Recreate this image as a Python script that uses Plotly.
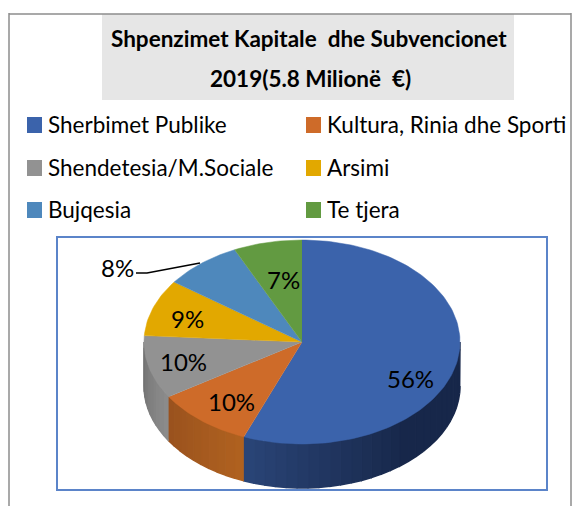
import math
import plotly.graph_objects as go

title_lines = ["Shpenzimet Kapitale  dhe Subvencionet", "2019(5.8 Milionë  €)"]
categories = ["Sherbimet Publike", "Kultura, Rinia dhe Sporti", "Shendetesia/M.Sociale", "Arsimi", "Bujqesia", "Te tjera"]
shares = [56, 10, 10, 9, 8, 7]
colors = ["#3B63AB", "#CE6B29", "#929292", "#E2A800", "#4E88BC", "#629A41"]
side_left = ["#2A4577", "#B0621F", "#8C8C8C"]
side_right = ["#17274A", "#99511E", "#727272"]

W, H = 573, 506
CX, CY, RX, RY, DEPTH = 302, 342, 158, 102, 44
FONT = "Lato"

def pt(turn, dy=0):
    a = 2 * math.pi * turn
    return CX + RX * math.sin(a), CY - RY * math.cos(a) + dy

def lerp(c1, c2, f):
    a = [int(c1[i:i+2], 16) for i in (1, 3, 5)]
    b = [int(c2[i:i+2], 16) for i in (1, 3, 5)]
    return "#%02x%02x%02x" % tuple(round(p + (q - p) * f) for p, q in zip(a, b))

fig = go.Figure()

def poly(xs, ys, color, lw=1.5):
    fig.add_trace(go.Scatter(x=xs, y=ys, mode="lines", fill="toself", fillcolor=color,
                             line=dict(color=color, width=lw), hoverinfo="skip", showlegend=False))

total = sum(shares)
edges = [0]
for v in shares:
    edges.append(edges[-1] + v / total)

# visible side wall (front half of the pie), colour fades along the rim
for i in range(len(shares)):
    lo, hi = max(edges[i], 0.25), min(edges[i + 1], 0.75)
    if lo >= hi or i >= len(side_left):
        continue
    n = 28 if i == 0 else 10
    for k in range(n):
        t0 = lo + (hi - lo) * k / n
        t1 = lo + (hi - lo) * (k + 1) / n
        f = (k + 0.5) / n
        if i == 0:
            # clockwise from the right: dark first, lighter toward the orange slice
            f = 1 - max(0, (f - 0.45) / 0.55)
        c = lerp(side_left[i], side_right[i], f)
        ts = [t0 + (t1 - t0) * j / 4 for j in range(5)]
        pts = [pt(t) for t in ts] + [pt(t, DEPTH) for t in reversed(ts)]
        poly([p[0] for p in pts], [p[1] for p in pts], c)

# top faces
for i, c in enumerate(colors):
    n = max(4, int((edges[i + 1] - edges[i]) * 240))
    pts = [(CX, CY)] + [pt(edges[i] + (edges[i + 1] - edges[i]) * j / n) for j in range(n + 1)]
    poly([p[0] for p in pts], [p[1] for p in pts], c, lw=0.5)

# leader line for the 8% label
fig.add_trace(go.Scatter(x=[136, 147, 200], y=[273, 273, 263], mode="lines",
                         line=dict(color="black", width=1.6), hoverinfo="skip", showlegend=False))

shapes = [
    dict(type="rect", x0=102, x1=514, y0=14, y1=100, fillcolor="#E6E6E6", line=dict(width=0), layer="below"),
    dict(type="line", x0=9, x1=9, y0=13, y1=506, line=dict(color="#8C8C8C", width=1.5)),
    dict(type="line", x0=9, x1=571, y0=14, y1=14, line=dict(color="#8C8C8C", width=1.5)),
    dict(type="line", x0=571, x1=571, y0=13, y1=506, line=dict(color="#8C8C8C", width=1.5)),
    dict(type="rect", x0=57, x1=547, y0=237, y1=490, line=dict(color="#5B84C9", width=2)),
]

annotations = []
def text(x, y, s, size, anchor="left", bold=False):
    annotations.append(dict(x=x, y=y, text=f"<b>{s}</b>" if bold else s, showarrow=False,
                            xanchor=anchor, yanchor="middle", xref="x", yref="y",
                            font=dict(family=FONT, size=size, color="black")))

text(309, 38, title_lines[0], 22.5, "center", True)
text(310, 78, title_lines[1], 22.5, "center", True)

legend_x = [27, 306]
legend_y = [125, 168, 210]
for i, (name, c) in enumerate(zip(categories, colors)):
    x = legend_x[i % 2]
    y = legend_y[i // 2]
    shapes.append(dict(type="rect", x0=x, x1=x + 15, y0=y - 8, y1=y + 8, fillcolor=c, line=dict(width=0)))
    text(x + 19, y - 1, name, 22.5)

label_xy = [(410, 378), (231, 401), (183, 361), (187, 318), (117, 267), (283, 279)]
for v, (x, y) in zip(shares, label_xy):
    text(x, y, f"{v}%", 24, "center")

fig.update_layout(
    width=W, height=H, margin=dict(l=0, r=0, t=0, b=0),
    paper_bgcolor="white", plot_bgcolor="white", showlegend=False,
    xaxis=dict(range=[0, W], visible=False, fixedrange=True),
    yaxis=dict(range=[H, 0], visible=False, fixedrange=True),
    shapes=shapes, annotations=annotations,
)
fig.write_html("out.html", config={"displayModeBar": False},
               post_script="document.body.style.margin='0';")
